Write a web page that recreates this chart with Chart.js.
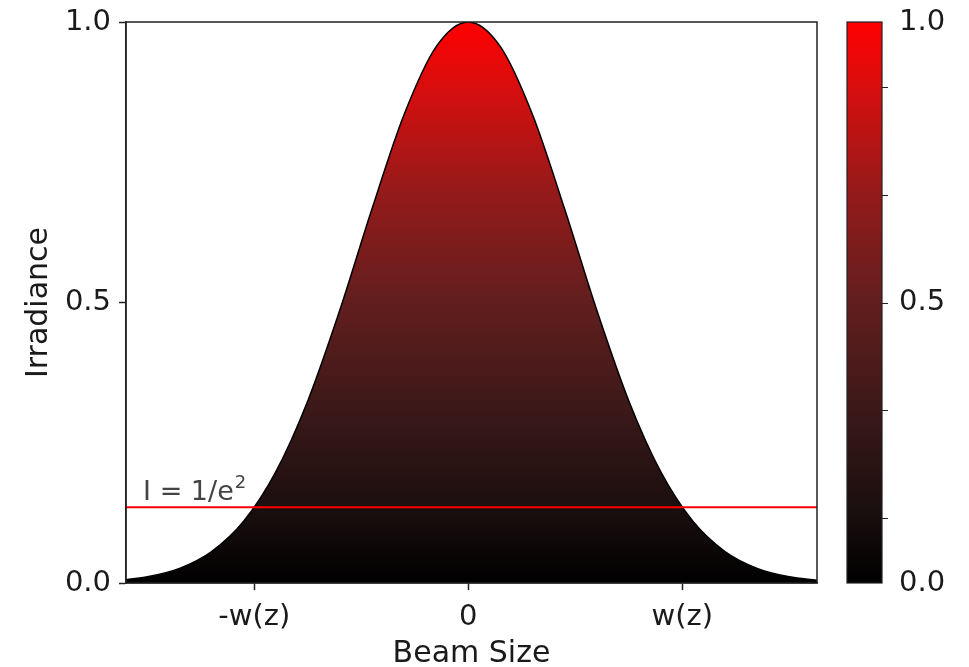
<!DOCTYPE html>
<html lang="en">
<head>
    <meta charset="UTF-8">
    <script src="https://cdn.jsdelivr.net/npm/chart.js"></script>
    <title>Beam irradiance</title>
    <style>
        html, body { margin: 0; padding: 0; background: #fff; }
        #wrap { width: 969px; height: 667px; }
    </style>
</head>
<body>
<div id="wrap"><canvas id="myChart"></canvas></div>

<script>
    // beam position in units of w(z), and irradiance
    const beamX = [-1.6, -1.5, -1.35, -1.2, -1.05, -0.9, -0.75, -0.6, -0.45, -0.3, -0.15, 0,
                   0.15, 0.3, 0.45, 0.6, 0.75, 0.9, 1.05, 1.2, 1.35, 1.5, 1.63];
    const irradiance = [0.006, 0.011, 0.026, 0.056, 0.110, 0.198, 0.325, 0.487, 0.667, 0.835, 0.956, 1.0,
                        0.956, 0.835, 0.667, 0.487, 0.325, 0.198, 0.110, 0.056, 0.026, 0.011, 0.005];

    const threshold = 0.135;           // 1/e^2
    const xTicks = [-1, 0, 1];
    const xTickLabels = {'-1': '-w(z)', '0': '0', '1': 'w(z)'};
    const yTicks = [0, 0.5, 1];
    const cbarLabels = [0, 0.5, 1];
    const cbarMinor = [0.115, 0.3075, 0.5, 0.6925, 0.885];

    // colormap stops (value -> colour)
    const cmap = [
        [0.0, 'rgb(0,0,0)'],
        [0.12, 'rgb(24,14,14)'],
        [0.3, 'rgb(58,24,24)'],
        [0.5, 'rgb(98,30,30)'],
        [0.7, 'rgb(150,26,26)'],
        [0.88, 'rgb(215,14,14)'],
        [1.0, 'rgb(255,0,0)']
    ];

    const FONT = '"DejaVu Sans", sans-serif';

    function makeGradient(ctx, y) {
        const g = ctx.createLinearGradient(0, y.getPixelForValue(0), 0, y.getPixelForValue(1));
        cmap.forEach(s => g.addColorStop(s[0], s[1]));
        return g;
    }

    const decor = {
        id: 'decor',
        afterDatasetsDraw(chart) {
            const {ctx, chartArea, scales} = chart;
            const x = scales.x, y = scales.y, cb = scales.cb;
            ctx.save();

            // frame
            ctx.strokeStyle = '#222';
            ctx.lineWidth = 1.5;
            ctx.strokeRect(chartArea.left, chartArea.top,
                chartArea.right - chartArea.left, chartArea.bottom - chartArea.top);

            // threshold label
            const tx = x.getPixelForValue(-1.52);
            const ty = y.getPixelForValue(threshold) - 7;
            ctx.fillStyle = '#444';
            ctx.textBaseline = 'alphabetic';
            ctx.textAlign = 'left';
            ctx.font = '27px ' + FONT;
            const main = 'I = 1/e';
            ctx.fillText(main, tx, ty);
            const w = ctx.measureText(main).width;
            ctx.font = '18px ' + FONT;
            ctx.fillText('2', tx + w + 1, ty - 12);

            // colorbar
            const cbL = chartArea.right + 30, cbW = 35;
            const top = cb.getPixelForValue(1), bot = cb.getPixelForValue(0);
            ctx.fillStyle = makeGradient(ctx, cb);
            ctx.fillRect(cbL, top, cbW, bot - top);
            ctx.strokeStyle = '#222';
            ctx.lineWidth = 1.2;
            ctx.strokeRect(cbL, top, cbW, bot - top);
            ctx.beginPath();
            cbarMinor.forEach(v => {
                const py = Math.round(cb.getPixelForValue(v)) + 0.5;
                ctx.moveTo(cbL + cbW, py);
                ctx.lineTo(cbL + cbW + 6, py);
            });
            ctx.stroke();
            ctx.restore();
        }
    };

    const ctx = document.getElementById('myChart').getContext('2d');

    new Chart(ctx, {
        type: 'line',
        data: {
            datasets: [{
                label: 'threshold',
                data: [{x: beamX[0], y: threshold}, {x: beamX[beamX.length - 1], y: threshold}],
                borderColor: 'rgb(255,0,0)',
                borderWidth: 2,
                pointRadius: 0,
                fill: false,
                order: 0
            }, {
                label: 'Irradiance',
                data: beamX.map((v, i) => ({x: v, y: irradiance[i]})),
                borderColor: '#000',
                borderWidth: 1.5,
                pointRadius: 0,
                cubicInterpolationMode: 'monotone',
                fill: 'origin',
                backgroundColor: (c) => {
                    const ch = c.chart;
                    if (!ch.chartArea) return 'rgba(0,0,0,0)';
                    return makeGradient(ch.ctx, ch.scales.y);
                },
                order: 1
            }]
        },
        options: {
            responsive: true,
            maintainAspectRatio: false,
            animation: false,
            layout: {padding: {top: 22, left: 0, right: 0, bottom: 0}},
            plugins: {
                legend: {display: false},
                tooltip: {enabled: false}
            },
            scales: {
                x: {
                    type: 'linear',
                    min: -1.6,
                    max: 1.63,
                    afterBuildTicks: (s) => { s.ticks = xTicks.map(v => ({value: v})); },
                    afterFit: (s) => { s.height = 84; s.paddingLeft = 0; s.paddingRight = 0; },
                    grid: {drawOnChartArea: false, tickLength: 7, color: '#222', tickWidth: 1.5},
                    border: {display: true, color: '#222', width: 1.5},
                    ticks: {
                        color: '#1a1a1a',
                        font: {family: FONT, size: 29},
                        padding: 10,
                        maxRotation: 0,
                        callback: (v) => xTickLabels[String(v)]
                    },
                    title: {
                        display: true,
                        text: 'Beam Size',
                        color: '#1a1a1a',
                        font: {family: FONT, size: 30, lineHeight: 0.85},
                        padding: {top: 0, bottom: 0}
                    }
                },
                y: {
                    type: 'linear',
                    min: 0,
                    max: 1,
                    afterBuildTicks: (s) => { s.ticks = yTicks.map(v => ({value: v})); },
                    afterFit: (s) => { s.width = 126; s.paddingTop = 0; s.paddingBottom = 0; },
                    grid: {drawOnChartArea: false, tickLength: 7, color: '#222', tickWidth: 1.5},
                    border: {display: true, color: '#222', width: 1.5},
                    ticks: {
                        color: '#1a1a1a',
                        font: {family: FONT, size: 29},
                        padding: 8,
                        callback: (v) => v.toFixed(1)
                    },
                    title: {
                        display: true,
                        text: 'Irradiance',
                        color: '#1a1a1a',
                        font: {family: FONT, size: 30, lineHeight: 1},
                        padding: {top: 24, bottom: 0}
                    }
                },
                cb: {
                    type: 'linear',
                    position: 'right',
                    min: 0,
                    max: 1,
                    afterBuildTicks: (s) => { s.ticks = cbarLabels.map(v => ({value: v})); },
                    afterFit: (s) => { s.width = 152; s.paddingTop = 0; s.paddingBottom = 0; },
                    grid: {display: false, drawTicks: false, drawOnChartArea: false},
                    border: {display: false},
                    ticks: {
                        color: '#1a1a1a',
                        font: {family: FONT, size: 29},
                        padding: 82,
                        callback: (v) => v.toFixed(1)
                    }
                }
            }
        },
        plugins: [decor]
    });
</script>
</body>
</html>
